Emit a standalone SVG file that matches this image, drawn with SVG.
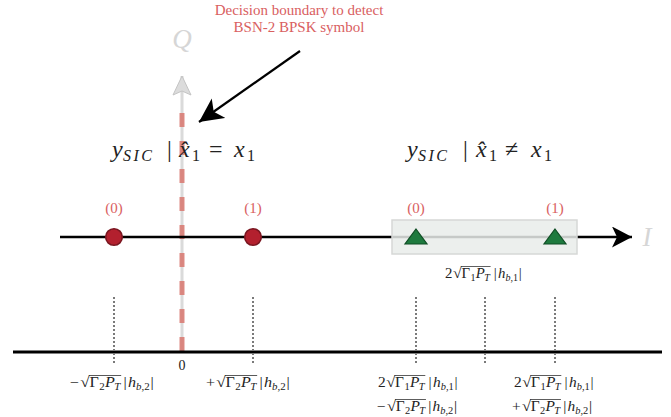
<svg xmlns="http://www.w3.org/2000/svg" width="671" height="417" viewBox="0 0 671 417">
<style>
.m{font-family:"Liberation Serif","DejaVu Serif",serif;font-size:14px;fill:#222}
.i{font-style:italic}
.s{font-size:9.5px}
.rt{font-size:15px}
.h{font-family:"Liberation Serif","DejaVu Serif",serif;font-size:24px;fill:#222}
.hs{font-size:16px}
.sic{font-size:16px;letter-spacing:2.5px}
.lab{font-family:"Liberation Serif","DejaVu Serif",serif;font-size:15px;fill:#d9605f;text-anchor:middle}
.ax{font-family:"Liberation Serif","DejaVu Serif",serif;font-style:italic;font-size:27px;fill:#d6d6d6}
.dot{stroke:#7a7a7a;stroke-width:2;stroke-dasharray:2 2;fill:none}
.ol{stroke:#222;stroke-width:0.7}
.circ{fill:#b3202e;stroke:#7a1620;stroke-width:1.6}
.tri{fill:#1e7a3e;stroke:#0f4d24;stroke-width:1.2}
</style>
<defs>
<marker id="ah" markerWidth="22" markerHeight="22" refX="20" refY="10.5" orient="auto" markerUnits="userSpaceOnUse">
<path d="M0,0 L20,10.5 L0,21 L5,10.5 Z" fill="#000"/>
</marker>
<marker id="ahq" markerWidth="22" markerHeight="22" refX="20" refY="10" orient="auto" markerUnits="userSpaceOnUse">
<path d="M1,1 L20,10 L1,19 L5,10 Z" fill="#dcdcdc" stroke="#c4c4c4" stroke-width="1"/>
</marker>
<marker id="ahb" markerWidth="26" markerHeight="26" refX="24" refY="12" orient="auto" markerUnits="userSpaceOnUse">
<path d="M0,0 L24,12 L0,24 L6,12 Z" fill="#000"/>
</marker>
</defs>

<g id="connectors">
<line x1="182" y1="352" x2="182" y2="76" stroke="#dadada" stroke-width="3" marker-end="url(#ahq)"/>
<line x1="182" y1="113" x2="182" y2="352" stroke="#d8776f" stroke-opacity="0.85" stroke-width="5" stroke-dasharray="14 14"/>
<line x1="60" y1="237" x2="632" y2="237" stroke="#000" stroke-width="2.5" marker-end="url(#ah)"/>
<line x1="13" y1="352" x2="662" y2="352" stroke="#000" stroke-width="3"/>
<line class="dot" x1="114" y1="297" x2="114" y2="364"/>
<line class="dot" x1="253" y1="297" x2="253" y2="364"/>
<line class="dot" x1="416" y1="297" x2="416" y2="364"/>
<line class="dot" x1="485" y1="297" x2="485" y2="364"/>
<line class="dot" x1="555" y1="297" x2="555" y2="364"/>
<line x1="300" y1="51" x2="199" y2="122" stroke="#000" stroke-width="2.2" marker-end="url(#ahb)"/>
</g>

<g id="axis-labels">
<text class="ax" x="182" y="48" text-anchor="middle">Q</text>
<text class="ax" x="647" y="246" text-anchor="middle">I</text>
<text class="m" x="182" y="370" text-anchor="middle">0</text>
</g>

<g id="annotation">
<text class="lab" x="299" y="15">Decision boundary to detect</text>
<text class="lab" x="299" y="32">BSN-2 BPSK symbol</text>
</g>

<g id="header-equal">
<text class="h"><tspan class="i" x="112" y="157">y</tspan><tspan class="i sic" x="123" y="161">SIC</tspan><tspan x="167" y="157">|</tspan><tspan class="i" x="179" y="157">x̂</tspan><tspan class="hs" x="192" y="161">1</tspan><tspan x="209" y="157">=</tspan><tspan class="i" x="234" y="157">x</tspan><tspan class="hs" x="247" y="161">1</tspan></text>
</g>

<g id="header-notequal">
<text class="h"><tspan class="i" x="407" y="157">y</tspan><tspan class="i sic" x="418" y="161">SIC</tspan><tspan x="463" y="157">|</tspan><tspan class="i" x="476" y="157">x̂</tspan><tspan class="hs" x="489" y="161">1</tspan><tspan x="505" y="157">≠</tspan><tspan class="i" x="531" y="157">x</tspan><tspan class="hs" x="544" y="161">1</tspan></text>
</g>

<g id="region-box">
<rect x="392" y="220" width="185" height="34" fill="#e9ecea" fill-opacity="0.85" stroke="#d6d8d6" stroke-width="1.5"/>
</g>

<g id="sym-circle-0">
<text class="lab" x="114" y="213">(0)</text>
<circle class="circ" cx="114" cy="237" r="8.3"/>
</g>
<g id="sym-circle-1">
<text class="lab" x="253" y="213">(1)</text>
<circle class="circ" cx="253" cy="237" r="8.3"/>
</g>
<g id="sym-tri-0">
<text class="lab" x="416" y="213">(0)</text>
<polygon class="tri" points="416,229 427,244 405,244"/>
</g>
<g id="sym-tri-1">
<text class="lab" x="555" y="213">(1)</text>
<polygon class="tri" points="555,229 566,244 544,244"/>
</g>

<g id="label-mid" transform="translate(445,278) scale(1.06,1)">
<text class="m"><tspan x="0" y="0">2</tspan><tspan class="rt" x="7.5" y="0">√</tspan><tspan x="15.5" y="0">Γ</tspan><tspan class="s" x="24" y="3">1</tspan><tspan class="i" x="29" y="0">P</tspan><tspan class="i s" x="37" y="3">T</tspan><tspan x="46" y="0">|</tspan><tspan class="i" x="50" y="0">h</tspan><tspan class="s" x="57" y="3"><tspan class="i">b</tspan>,1</tspan><tspan x="69.5" y="0">|</tspan></text>
<line class="ol" x1="15" y1="-11.5" x2="43" y2="-11.5"/>
</g>

<g id="label-neg" transform="translate(70,387) scale(1.15,1)">
<text class="m"><tspan x="0" y="0">−</tspan><tspan class="rt" x="9" y="0">√</tspan><tspan x="17" y="0">Γ</tspan><tspan class="s" x="25.5" y="3">2</tspan><tspan class="i" x="30.5" y="0">P</tspan><tspan class="i s" x="38.5" y="3">T</tspan><tspan x="46.5" y="0">|</tspan><tspan class="i" x="50.5" y="0">h</tspan><tspan class="s" x="57.5" y="3"><tspan class="i">b</tspan>,2</tspan><tspan x="70" y="0">|</tspan></text>
<line class="ol" x1="16.5" y1="-11.5" x2="44.5" y2="-11.5"/>
</g>

<g id="label-pos" transform="translate(206,387) scale(1.15,1)">
<text class="m"><tspan x="0" y="0">+</tspan><tspan class="rt" x="9" y="0">√</tspan><tspan x="17" y="0">Γ</tspan><tspan class="s" x="25.5" y="3">2</tspan><tspan class="i" x="30.5" y="0">P</tspan><tspan class="i s" x="38.5" y="3">T</tspan><tspan x="46.5" y="0">|</tspan><tspan class="i" x="50.5" y="0">h</tspan><tspan class="s" x="57.5" y="3"><tspan class="i">b</tspan>,2</tspan><tspan x="70" y="0">|</tspan></text>
<line class="ol" x1="16.5" y1="-11.5" x2="44.5" y2="-11.5"/>
</g>

<g id="label-diff-neg">
<g transform="translate(378,387) scale(1.1,1)">
<text class="m"><tspan x="0" y="0">2</tspan><tspan class="rt" x="7.5" y="0">√</tspan><tspan x="15.5" y="0">Γ</tspan><tspan class="s" x="24" y="3">1</tspan><tspan class="i" x="29" y="0">P</tspan><tspan class="i s" x="37" y="3">T</tspan><tspan x="46" y="0">|</tspan><tspan class="i" x="50" y="0">h</tspan><tspan class="s" x="57" y="3"><tspan class="i">b</tspan>,1</tspan><tspan x="69.5" y="0">|</tspan></text>
<line class="ol" x1="15" y1="-11.5" x2="43" y2="-11.5"/>
</g>
<g transform="translate(377,411) scale(1.1,1)">
<text class="m"><tspan x="0" y="0">−</tspan><tspan class="rt" x="9" y="0">√</tspan><tspan x="17" y="0">Γ</tspan><tspan class="s" x="25.5" y="3">2</tspan><tspan class="i" x="30.5" y="0">P</tspan><tspan class="i s" x="38.5" y="3">T</tspan><tspan x="46.5" y="0">|</tspan><tspan class="i" x="50.5" y="0">h</tspan><tspan class="s" x="57.5" y="3"><tspan class="i">b</tspan>,2</tspan><tspan x="70" y="0">|</tspan></text>
<line class="ol" x1="16.5" y1="-11.5" x2="44.5" y2="-11.5"/>
</g>
</g>

<g id="label-diff-pos">
<g transform="translate(514,387) scale(1.1,1)">
<text class="m"><tspan x="0" y="0">2</tspan><tspan class="rt" x="7.5" y="0">√</tspan><tspan x="15.5" y="0">Γ</tspan><tspan class="s" x="24" y="3">1</tspan><tspan class="i" x="29" y="0">P</tspan><tspan class="i s" x="37" y="3">T</tspan><tspan x="46" y="0">|</tspan><tspan class="i" x="50" y="0">h</tspan><tspan class="s" x="57" y="3"><tspan class="i">b</tspan>,1</tspan><tspan x="69.5" y="0">|</tspan></text>
<line class="ol" x1="15" y1="-11.5" x2="43" y2="-11.5"/>
</g>
<g transform="translate(512,411) scale(1.1,1)">
<text class="m"><tspan x="0" y="0">+</tspan><tspan class="rt" x="9" y="0">√</tspan><tspan x="17" y="0">Γ</tspan><tspan class="s" x="25.5" y="3">2</tspan><tspan class="i" x="30.5" y="0">P</tspan><tspan class="i s" x="38.5" y="3">T</tspan><tspan x="46.5" y="0">|</tspan><tspan class="i" x="50.5" y="0">h</tspan><tspan class="s" x="57.5" y="3"><tspan class="i">b</tspan>,2</tspan><tspan x="70" y="0">|</tspan></text>
<line class="ol" x1="16.5" y1="-11.5" x2="44.5" y2="-11.5"/>
</g>
</g>
</svg>
